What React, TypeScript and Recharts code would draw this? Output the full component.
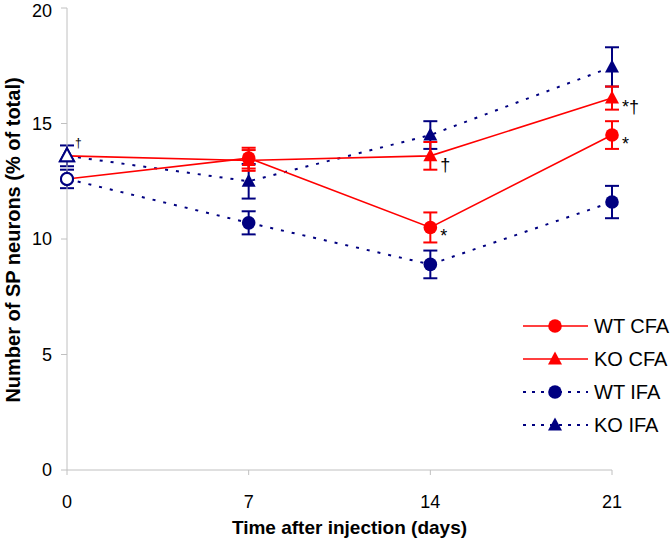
import React from "react";
import { LineChart, Line, XAxis, YAxis, ErrorBar, LabelList, Legend, Label } from "recharts";

const days = [0, 7, 14, 21];
const xTicks = [0, 7, 14, 21];
const yTicks = [0, 5, 10, 15, 20];

const wtCfa = [12.6, 13.5, 10.5, 14.5];
const wtCfaErr = [null, 0.45, 0.65, 0.6];
const koCfa = [13.6, 13.4, 13.6, 16.1];
const koCfaErr = [null, 0.45, 0.6, 0.5];
const wtIfa = [12.6, 10.7, 8.9, 11.6];
const wtIfaErr = [0.4, 0.5, 0.6, 0.7];
const koIfa = [13.6, 12.5, 14.5, 17.45];
const koIfaErr = [0.45, 0.75, 0.6, 0.85];

const wtCfaNotes = ["", "", "*", "*"];
const koCfaNotes = ["\u2020", "", "\u2020", "*\u2020"];

const RED = "#ff0000";
const NAVY = "#000080";
const GREY = "#c0c0c0";
const FONT = "Arial, 'Liberation Sans', Helvetica, sans-serif";

const data = days.map((d, i) => ({
  day: d,
  wtCfa: wtCfa[i],
  wtCfaErr: wtCfaErr[i],
  koCfa: koCfa[i],
  koCfaErr: koCfaErr[i],
  wtIfa: wtIfa[i],
  wtIfaErr: wtIfaErr[i],
  koIfa: koIfa[i],
  koIfaErr: koIfaErr[i],
  wtCfaNote: wtCfaNotes[i],
  koCfaNote: koCfaNotes[i],
}));

type Shape = "circle" | "triangle";

function Marker({ cx, cy, shape, fill, stroke, sw = 0 }: any) {
  if (cx == null || cy == null) return null;
  if (shape === "circle") {
    return <circle cx={cx} cy={cy} r={sw ? 6 : 6.8} fill={fill} stroke={stroke} strokeWidth={sw} />;
  }
  const pts = `${cx},${cy - 7.5} ${cx - 7},${cy + 5.5} ${cx + 7},${cy + 5.5}`;
  return <polygon points={pts} fill={fill} stroke={stroke} strokeWidth={sw} strokeLinejoin="miter" />;
}

const makeDot = (shape: Shape, color: string) => (props: any) => {
  const { cx, cy, index } = props;
  if (index === 0) {
    return (
      <g key={`d-${shape}-${color}-${index}`}>
        <Marker cx={cx} cy={cy} shape={shape} fill="#ffffff" stroke={NAVY} sw={2} />
      </g>
    );
  }
  return (
    <g key={`d-${shape}-${color}-${index}`}>
      <Marker cx={cx} cy={cy} shape={shape} fill={color} stroke={color} sw={0} />
    </g>
  );
};

const renderNote = (props: any) => {
  const { x, y, value, index } = props;
  if (!value) return null;
  if (index === 0) {
    return (
      <text key={`n-${index}`} x={x + 8} y={y - 9} fontSize={12} fontFamily={FONT} fill="#000">
        {value}
      </text>
    );
  }
  return (
    <text key={`n-${index}-${value}`} x={x + 10} y={y + 15} fontSize={18} fontFamily={FONT} fill="#000">
      {value}
    </text>
  );
};

const legendItems = [
  { name: "WT CFA", color: RED, shape: "circle" as Shape, dashed: false },
  { name: "KO CFA", color: RED, shape: "triangle" as Shape, dashed: false },
  { name: "WT IFA", color: NAVY, shape: "circle" as Shape, dashed: true },
  { name: "KO IFA", color: NAVY, shape: "triangle" as Shape, dashed: true },
];

function CustomLegend() {
  return (
    <div style={{ fontFamily: FONT }}>
      {legendItems.map((it) => (
        <div key={it.name} style={{ display: "flex", alignItems: "center", height: 33 }}>
          <svg width={70} height={20} style={{ display: "block" }}>
            <line
              x1={1}
              y1={10}
              x2={66}
              y2={10}
              stroke={it.color}
              strokeWidth={it.dashed ? 2 : 1.6}
              strokeDasharray={it.dashed ? "3 6" : undefined}
            />
            <Marker cx={33} cy={10} shape={it.shape} fill={it.color} stroke={it.color} sw={0} />
          </svg>
          <span style={{ fontSize: 20, color: "#000", marginLeft: 2, lineHeight: "20px" }}>{it.name}</span>
        </div>
      ))}
    </div>
  );
}

export default function App() {
  return (
    <div style={{ position: "absolute", left: 0, top: 0, width: 672, height: 547, background: "#fff" }}>
      <LineChart width={672} height={547} data={data} margin={{ top: 8, right: 60, bottom: 27, left: 0 }}>
        <XAxis
          dataKey="day"
          type="number"
          domain={[0, 21]}
          ticks={xTicks}
          tickSize={5}
          tickMargin={20}
          height={50}
          axisLine={{ stroke: GREY, strokeWidth: 1 }}
          tickLine={{ stroke: GREY }}
          tick={{ fill: "#000", fontSize: 18, fontFamily: FONT }}
        >
          <Label
            content={(p: any) => {
              const vb = p.viewBox || {};
              const cx = (vb.x ?? 67) + (vb.width ?? 545) / 2 + 10;
              return (
                <text x={cx} y={534} textAnchor="middle" fontSize={19} fontWeight="bold" fontFamily={FONT} fill="#000">
                  Time after injection (days)
                </text>
              );
            }}
          />
        </XAxis>
        <YAxis
          type="number"
          domain={[0, 20]}
          ticks={yTicks}
          width={67}
          tickSize={6}
          tickMargin={9}
          axisLine={{ stroke: GREY, strokeWidth: 1 }}
          tickLine={{ stroke: GREY }}
          tick={{ fill: "#000", fontSize: 18, fontFamily: FONT }}
        >
          <Label
            content={(p: any) => {
              const vb = p.viewBox || {};
              const cy = (vb.y ?? 8) + (vb.height ?? 462) / 2 + 1;
              return (
                <text
                  x={13}
                  y={cy}
                  transform={`rotate(-90, 13, ${cy})`}
                  textAnchor="middle"
                  dominantBaseline="central"
                  fontSize={20}
                  fontWeight="bold"
                  fontFamily={FONT}
                  fill="#000"
                >
                  Number of SP neurons (% of total)
                </text>
              );
            }}
          />
        </YAxis>
        <Legend
          layout="vertical"
          align="center"
          verticalAlign="middle"
          wrapperStyle={{ left: 522, top: 309, width: 150 }}
          content={() => <CustomLegend />}
        />
        <Line
          dataKey="wtIfa"
          name="WT IFA"
          stroke={NAVY}
          strokeWidth={2}
          strokeDasharray="3 8"
          dot={makeDot("circle", NAVY)}
          activeDot={false}
          isAnimationActive={false}
          legendType="none"
        >
          <ErrorBar dataKey="wtIfaErr" width={7} stroke={NAVY} strokeWidth={2} direction="y" />
        </Line>
        <Line
          dataKey="koIfa"
          name="KO IFA"
          stroke={NAVY}
          strokeWidth={2}
          strokeDasharray="3 8"
          dot={makeDot("triangle", NAVY)}
          activeDot={false}
          isAnimationActive={false}
          legendType="none"
        >
          <ErrorBar dataKey="koIfaErr" width={7} stroke={NAVY} strokeWidth={2} direction="y" />
        </Line>
        <Line
          dataKey="wtCfa"
          name="WT CFA"
          stroke={RED}
          strokeWidth={1.6}
          dot={makeDot("circle", RED)}
          activeDot={false}
          isAnimationActive={false}
          legendType="none"
        >
          <ErrorBar dataKey="wtCfaErr" width={7} stroke={RED} strokeWidth={2} direction="y" />
          <LabelList dataKey="wtCfaNote" content={renderNote} />
        </Line>
        <Line
          dataKey="koCfa"
          name="KO CFA"
          stroke={RED}
          strokeWidth={1.6}
          dot={makeDot("triangle", RED)}
          activeDot={false}
          isAnimationActive={false}
          legendType="none"
        >
          <ErrorBar dataKey="koCfaErr" width={7} stroke={RED} strokeWidth={2} direction="y" />
          <LabelList dataKey="koCfaNote" content={renderNote} />
        </Line>
      </LineChart>
    </div>
  );
}
